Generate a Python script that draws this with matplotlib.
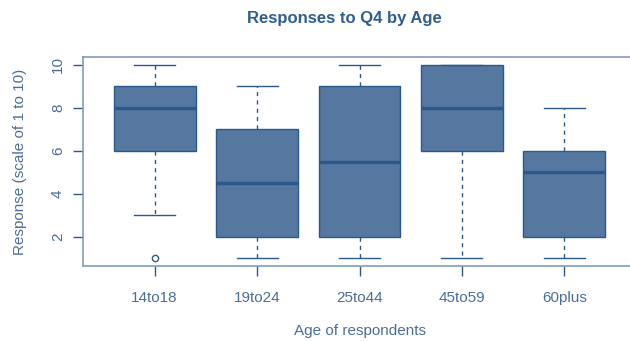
import matplotlib.pyplot as plt

# summary stats per age group
groups = ["14to18", "19to24", "25to44", "45to59", "60plus"]
whislo = [3, 1, 1, 1, 1]
q1 = [6, 2, 2, 6, 2]
med = [8, 4.5, 5.5, 8, 5]
q3 = [9, 7, 9, 10, 6]
whishi = [10, 9, 10, 10, 8]
outliers = [[1], [], [], [], []]

fill = "#5577a0"
dark = "#2a5a8c"
text_col = "#4a6e9a"
frame_col = "#7f9cbf"

plt.rcParams["font.family"] = ["Liberation Sans", "DejaVu Sans"]

stats = []
for i, g in enumerate(groups):
    stats.append({
        "label": g, "whislo": whislo[i], "q1": q1[i], "med": med[i],
        "q3": q3[i], "whishi": whishi[i], "fliers": outliers[i],
    })

fig = plt.figure(figsize=(6.3, 3.41), dpi=100)
# axes right edge runs slightly past the figure, like the R device
ax = fig.add_axes([83 / 630, 1 - 266 / 341, (636 - 83) / 630, (266 - 57) / 341])

ax.bxp(
    stats,
    positions=range(1, 6),
    widths=0.8,
    patch_artist=True,
    boxprops={"facecolor": fill, "edgecolor": dark, "linewidth": 1},
    medianprops={"color": dark, "linewidth": 2.5},
    whiskerprops={"color": dark, "linestyle": (0, (3, 3)), "linewidth": 1},
    capprops={"color": dark, "linewidth": 1},
    capwidths=0.4,
    flierprops={"marker": "o", "markerfacecolor": "white", "markeredgecolor": dark,
                "markersize": 4.5, "markeredgewidth": 1},
)

ax.set_xlim(0.3, 5.7)
ax.set_ylim(0.64, 10.36)
ax.set_yticks([2, 4, 6, 8, 10])
ax.set_xticks(range(1, 6))
ax.set_xticklabels(groups)

for s in ax.spines.values():
    s.set_color(frame_col)
    s.set_linewidth(1.2)

ax.tick_params(axis="both", colors=dark, labelcolor=text_col, labelsize=11,
               length=7, width=1)
ax.tick_params(axis="x", pad=11)
ax.tick_params(axis="y", pad=6)
for lab in ax.get_yticklabels():
    lab.set_rotation(90)
    lab.set_va("center")

ax.set_xlabel("Age of respondents", color=text_col, fontsize=11, labelpad=14)
ax.set_ylabel("Response (scale of 1 to 10)", color=text_col, fontsize=11, labelpad=17)

fig.text(344 / 630, 1 - 19 / 341, "Responses to Q4 by Age", ha="center", va="center",
         color="#2f5f90", fontsize=12, fontweight="bold")

fig.savefig("out.png", dpi=100)
